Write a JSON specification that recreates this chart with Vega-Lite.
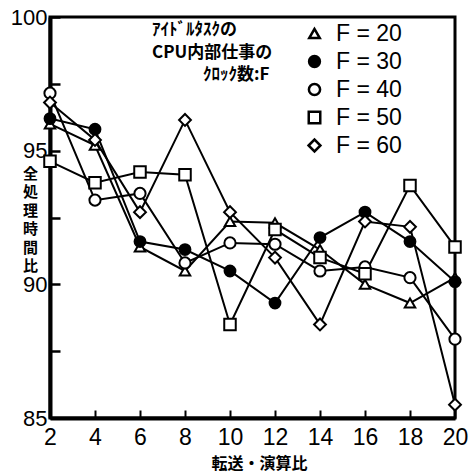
{
  "$schema": "https://vega.github.io/schema/vega-lite/v6.json",
  "width": 405,
  "height": 401,
  "autosize": "none",
  "padding": {"left": 50, "top": 17, "right": 16, "bottom": 54},
  "background": "white",
  "config": {
    "view": {"stroke": "black", "strokeWidth": 3},
    "axis": {"grid": false, "domainColor": "black", "domainWidth": 4, "tickColor": "black", "labelColor": "black", "titleColor": "black"},
    "legend": {
      "title": null
    }
  },
  "data": {
    "values": [
      {"F": "F = 20", "x": 2, "y": 96.0}, {"F": "F = 20", "x": 4, "y": 95.2}, {"F": "F = 20", "x": 6, "y": 91.4}, {"F": "F = 20", "x": 8, "y": 90.5}, {"F": "F = 20", "x": 10, "y": 92.35}, {"F": "F = 20", "x": 12, "y": 92.3}, {"F": "F = 20", "x": 14, "y": 91.3}, {"F": "F = 20", "x": 16, "y": 90.0}, {"F": "F = 20", "x": 18, "y": 89.3}, {"F": "F = 20", "x": 20, "y": 90.25},
      {"F": "F = 30", "x": 2, "y": 96.2}, {"F": "F = 30", "x": 4, "y": 95.8}, {"F": "F = 30", "x": 6, "y": 91.6}, {"F": "F = 30", "x": 8, "y": 91.3}, {"F": "F = 30", "x": 10, "y": 90.5}, {"F": "F = 30", "x": 12, "y": 89.3}, {"F": "F = 30", "x": 14, "y": 91.75}, {"F": "F = 30", "x": 16, "y": 92.7}, {"F": "F = 30", "x": 18, "y": 91.6}, {"F": "F = 30", "x": 20, "y": 90.1},
      {"F": "F = 40", "x": 2, "y": 97.15}, {"F": "F = 40", "x": 4, "y": 93.15}, {"F": "F = 40", "x": 6, "y": 93.4}, {"F": "F = 40", "x": 8, "y": 90.8}, {"F": "F = 40", "x": 10, "y": 91.55}, {"F": "F = 40", "x": 12, "y": 91.5}, {"F": "F = 40", "x": 14, "y": 90.5}, {"F": "F = 40", "x": 16, "y": 90.65}, {"F": "F = 40", "x": 18, "y": 90.25}, {"F": "F = 40", "x": 20, "y": 87.95},
      {"F": "F = 50", "x": 2, "y": 94.6}, {"F": "F = 50", "x": 4, "y": 93.8}, {"F": "F = 50", "x": 6, "y": 94.2}, {"F": "F = 50", "x": 8, "y": 94.1}, {"F": "F = 50", "x": 10, "y": 88.5}, {"F": "F = 50", "x": 12, "y": 92.05}, {"F": "F = 50", "x": 14, "y": 91.0}, {"F": "F = 50", "x": 16, "y": 90.4}, {"F": "F = 50", "x": 18, "y": 93.7}, {"F": "F = 50", "x": 20, "y": 91.4},
      {"F": "F = 60", "x": 2, "y": 96.8}, {"F": "F = 60", "x": 4, "y": 95.4}, {"F": "F = 60", "x": 6, "y": 92.7}, {"F": "F = 60", "x": 8, "y": 96.15}, {"F": "F = 60", "x": 10, "y": 92.7}, {"F": "F = 60", "x": 12, "y": 91.0}, {"F": "F = 60", "x": 14, "y": 88.5}, {"F": "F = 60", "x": 16, "y": 92.35}, {"F": "F = 60", "x": 18, "y": 92.15}, {"F": "F = 60", "x": 20, "y": 85.5}
    ]
  },
  "encoding": {
    "x": {
      "field": "x", "type": "quantitative",
      "scale": {"domain": [2, 20], "nice": false, "zero": false},
      "axis": {
        "values": [2, 4, 6, 8, 10, 12, 14, 16, 18, 20],
        "tickSize": -8, "tickWidth": 2, "labelPadding": 16,
        "labelFontSize": 23, "labelFont": "Liberation Sans",
        "labelFlush": false, "labelOverlap": false,
        "title": "転送・演算比", "titleFont": "Noto Sans CJK JP", "titleFontWeight": "bold", "titleFontSize": 16,
        "titleX": 209, "titleY": 45, "titleBaseline": "middle", "titleAlign": "center"
      }
    },
    "y": {
      "field": "y", "type": "quantitative",
      "scale": {"domain": [85, 100], "nice": false, "zero": false},
      "axis": {
        "values": [85, 87.5, 90, 92.5, 95, 97.5, 100],
        "labelExpr": "datum.value % 5 === 0 ? datum.label : ''",
        "tickSize": -10, "tickWidth": 2.5, "labelPadding": 13,
        "labelFontSize": 22, "labelFont": "Liberation Sans",
        "labelOverlap": false,
        "title": ["全", "処", "理", "時", "間", "比"],
        "titleFont": "Noto Sans CJK JP", "titleFontWeight": "bold", "titleFontSize": 15,
        "titleAngle": 0, "titleX": -20, "titleY": 149, "titleBaseline": "top", "titleAlign": "center", "titleLineHeight": 18.5
      }
    }
  },
  "layer": [
    {
      "mark": {"type": "line", "color": "black", "strokeWidth": 2},
      "encoding": {"detail": {"field": "F"}}
    },
    {
      "mark": {"type": "point", "filled": true, "strokeWidth": 2, "opacity": 1},
      "encoding": {
        "shape": {
          "field": "F", "type": "nominal",
          "scale": {"domain": ["F = 20", "F = 30", "F = 40", "F = 50", "F = 60"], "range": ["triangle-up", "circle", "circle", "square", "diamond"]},
          "legend": {
            "title": ["ｱｲﾄﾞﾙﾀｽｸの", "CPU内部仕事の", "\u200b\u3000\u3000\u3000ｸﾛｯｸ数:F"],
            "orient": "none", "legendX": 102, "legendY": 5, "padding": 0,
            "titleOrient": "left", "titleAnchor": "start", "titleFont": "Noto Sans CJK JP", "titleFontSize": 17, "titleFontWeight": "bold",
            "titleLineHeight": 22.5, "titleBaseline": "top", "titleAlign": "left", "titlePadding": 30, "titleColor": "black",
            "labelFontSize": 23, "labelFont": "Liberation Sans", "labelColor": "black", "labelOffset": 10, "labelLimit": 200,
            "rowPadding": 4, "symbolStrokeWidth": 2.5,
            "encode": {"title": {"update": {"dy": {"value": 15}}}, "symbols": {"update": {"strokeWidth": {"value": 2.5}}}}
          }
        },
        "fill": {
          "field": "F", "type": "nominal",
          "scale": {"domain": ["F = 20", "F = 30", "F = 40", "F = 50", "F = 60"], "range": ["white", "black", "white", "white", "white"]},
          "legend": {
            "title": ["ｱｲﾄﾞﾙﾀｽｸの", "CPU内部仕事の", "\u200b\u3000\u3000\u3000ｸﾛｯｸ数:F"],
            "orient": "none", "legendX": 102, "legendY": 5, "padding": 0,
            "titleOrient": "left", "titleAnchor": "start", "titleFont": "Noto Sans CJK JP", "titleFontSize": 17, "titleFontWeight": "bold",
            "titleLineHeight": 22.5, "titleBaseline": "top", "titleAlign": "left", "titlePadding": 30, "titleColor": "black",
            "labelFontSize": 23, "labelFont": "Liberation Sans", "labelColor": "black", "labelOffset": 10, "labelLimit": 200,
            "rowPadding": 4, "symbolStrokeWidth": 2.5,
            "encode": {"title": {"update": {"dy": {"value": 15}}}, "symbols": {"update": {"strokeWidth": {"value": 2.5}}}}
          }
        },
        "stroke": {
          "field": "F", "type": "nominal",
          "scale": {"domain": ["F = 20", "F = 30", "F = 40", "F = 50", "F = 60"], "range": ["black", "black", "black", "black", "black"]},
          "legend": {
            "title": ["ｱｲﾄﾞﾙﾀｽｸの", "CPU内部仕事の", "\u200b\u3000\u3000\u3000ｸﾛｯｸ数:F"],
            "orient": "none", "legendX": 102, "legendY": 5, "padding": 0,
            "titleOrient": "left", "titleAnchor": "start", "titleFont": "Noto Sans CJK JP", "titleFontSize": 17, "titleFontWeight": "bold",
            "titleLineHeight": 22.5, "titleBaseline": "top", "titleAlign": "left", "titlePadding": 30, "titleColor": "black",
            "labelFontSize": 23, "labelFont": "Liberation Sans", "labelColor": "black", "labelOffset": 10, "labelLimit": 200,
            "rowPadding": 4, "symbolStrokeWidth": 2.5,
            "encode": {"title": {"update": {"dy": {"value": 15}}}, "symbols": {"update": {"strokeWidth": {"value": 2.5}}}}
          }
        },
        "size": {
          "field": "F", "type": "ordinal",
          "scale": {"domain": ["F = 20", "F = 30", "F = 40", "F = 50", "F = 60"], "range": [110, 140, 110, 140, 200]},
          "legend": {
            "title": ["ｱｲﾄﾞﾙﾀｽｸの", "CPU内部仕事の", "\u200b\u3000\u3000\u3000ｸﾛｯｸ数:F"],
            "orient": "none", "legendX": 102, "legendY": 5, "padding": 0,
            "titleOrient": "left", "titleAnchor": "start", "titleFont": "Noto Sans CJK JP", "titleFontSize": 17, "titleFontWeight": "bold",
            "titleLineHeight": 22.5, "titleBaseline": "top", "titleAlign": "left", "titlePadding": 30, "titleColor": "black",
            "labelFontSize": 23, "labelFont": "Liberation Sans", "labelColor": "black", "labelOffset": 10, "labelLimit": 200,
            "rowPadding": 4, "symbolStrokeWidth": 2.5,
            "encode": {"title": {"update": {"dy": {"value": 15}}}, "symbols": {"update": {"strokeWidth": {"value": 2.5}}}}
          }
        }
      }
    }
  ]
}
